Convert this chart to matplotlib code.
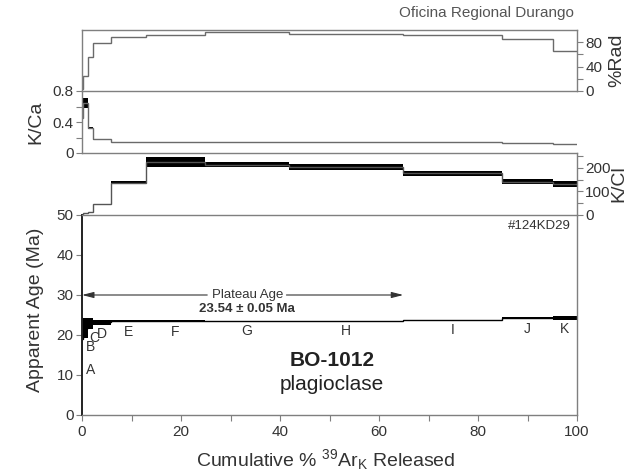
import matplotlib
matplotlib.use("Agg")
import matplotlib.pyplot as plt
import numpy as np

plt.rcParams['font.family'] = ['Liberation Sans', 'DejaVu Sans']
plt.rcParams['mathtext.fontset'] = 'custom'
plt.rcParams['mathtext.rm'] = 'Liberation Sans'
plt.rcParams['mathtext.it'] = 'Liberation Sans:italic'
plt.rcParams['mathtext.bf'] = 'Liberation Sans:bold'

# ---- step-heating data ----
steps = ['A', 'B', 'C', 'D', 'E', 'F', 'G', 'H', 'I', 'J', 'K']
cum_edges = [0, 0.3, 1.3, 2.3, 5.8, 12.9, 24.8, 41.9, 64.9, 84.8, 95.1, 100]
age = [19.1, 21.8, 22.9, 23.2, 23.5, 23.45, 23.52, 23.52, 23.7, 24.2, 24.3]
age_err = [5.4, 2.5, 1.3, 0.6, 0.35, 0.2, 0.1, 0.1, 0.15, 0.3, 0.5]
rad = [3, 24, 55, 78, 88.7, 92, 96, 93, 92, 86, 66]
kca = [0.45, 0.64, 0.32, 0.177, 0.146, 0.145, 0.145, 0.145, 0.145, 0.133, 0.116]
kca_err = [0.11, 0.065, 0.01, 0.004, 0.002, 0.002, 0.002, 0.002, 0.002, 0.002, 0.002]
kcl = [1, 7, 13, 46, 137, 224, 213, 202, 176, 141, 132]
kcl_err = [0.5, 0.5, 0.5, 1, 7.5, 20, 9, 12, 10, 10, 13]

plateau_age = 23.54
plateau_err = 0.05
plateau_range = (0, 64.9)
sample = 'BO-1012'
mineral = 'plagioclase'
lab_id = '#124KD29'
institution = 'Oficina Regional Durango'

edges = np.array(cum_edges)
widths = np.diff(edges)
lefts = edges[:-1]

GRAY = '#7f7f7f'
TXT = '#333333'

fig = plt.figure(figsize=(6.29, 4.74), dpi=100)
FW, FH = 629.0, 474.0
L, R = 82 / FW, 577 / FW


def panel(top_px, bot_px):
    return fig.add_axes([L, 1 - bot_px / FH, R - L, (bot_px - top_px) / FH])


ax_rad = panel(30, 91)
ax_kca = panel(91, 153)
ax_kcl = panel(153, 215)
ax_age = panel(215, 415)

for ax in (ax_rad, ax_kca, ax_kcl, ax_age):
    ax.set_xlim(0, 100)
    ax.set_facecolor('none')
    for s in ax.spines.values():
        s.set_color(GRAY)
        s.set_linewidth(1.0)
    ax.tick_params(which='both', direction='out', length=4, width=0.8,
                   color=GRAY, labelcolor=TXT, labelsize=11, pad=2)
    ax.tick_params(axis='x', which='both', bottom=False, labelbottom=False)


def step_line(ax, vals, color, lw):
    ax.step(edges, np.append(vals, vals[-1]), where='post', color=color, lw=lw,
            solid_joinstyle='miter')


def error_boxes(ax, vals, errs):
    v = np.array(vals)
    e = np.array(errs)
    ax.bar(lefts, 2 * e, width=widths, bottom=v - e, align='edge',
           color='black', linewidth=0)


# %Rad panel
step_line(ax_rad, rad, '#6a6a6a', 1.0)
ax_rad.set_ylim(0, 100)
ax_rad.yaxis.tick_right()
ax_rad.set_yticks([0, 40, 80])
ax_rad.set_yticks([20, 60], minor=True)
ax_rad.spines['bottom'].set_visible(False)

# K/Ca panel
error_boxes(ax_kca, kca, kca_err)
step_line(ax_kca, kca, '#6a6a6a', 1.0)
ax_kca.set_ylim(0, 0.8)
ax_kca.set_yticks([0, 0.4, 0.8])
ax_kca.set_yticklabels(['0', '0.4', '0.8'])
ax_kca.set_yticks([0.2, 0.6], minor=True)
ax_kca.spines['right'].set_visible(False)
ax_kca.spines['bottom'].set_visible(False)

# K/Cl panel
error_boxes(ax_kcl, kcl, kcl_err)
step_line(ax_kcl, kcl, '#555555', 1.0)
ax_kcl.set_ylim(0, 262)
ax_kcl.yaxis.tick_right()
ax_kcl.set_yticks([0, 100, 200])
ax_kcl.set_yticks([50, 150, 250], minor=True)
ax_kcl.spines['left'].set_visible(False)
ax_kcl.spines['bottom'].set_visible(False)

# Age spectrum
error_boxes(ax_age, age, age_err)
step_line(ax_age, age, 'black', 1.0)
ax_age.set_ylim(0, 50)
ax_age.set_yticks(range(0, 51, 10))
ax_age.spines['left'].set_color('#222222')
ax_age.spines['left'].set_linewidth(1.4)
ax_age.tick_params(axis='x', which='both', bottom=True, labelbottom=True, pad=3)
ax_age.set_xticks(range(0, 101, 20))
ax_age.set_xticks(range(10, 100, 20), minor=True)

# step letters beneath each box; narrow steps get left-anchored letters
for i, s in enumerate(steps):
    y = age[i] - age_err[i] - 2.4
    if widths[i] < 2:
        ax_age.text(max(lefts[i] + 0.15, 0.8), y, s, ha='left', va='center',
                    fontsize=10, color=TXT)
    else:
        ax_age.text(lefts[i] + widths[i] / 2, y, s, ha='center', va='center',
                    fontsize=10, color=TXT)

# plateau arrow with a gap for its caption
arrow_y = 30
label_x = 33.4
arrow_kw = dict(arrowstyle='-|>,head_length=0.7,head_width=0.18',
                color=TXT, lw=0.8, shrinkA=0, shrinkB=0)
ax_age.annotate('', xy=(plateau_range[0], arrow_y), xytext=(label_x - 8.1, arrow_y),
                arrowprops=arrow_kw)
ax_age.annotate('', xy=(plateau_range[1], arrow_y), xytext=(label_x + 7.9, arrow_y),
                arrowprops=arrow_kw)
ax_age.text(label_x, arrow_y, 'Plateau Age', ha='center', va='center',
            fontsize=9.5, color=TXT)
ax_age.text(label_x, arrow_y - 3.4, f'{plateau_age:.2f} \u00b1 {plateau_err:.2f} Ma',
            ha='center', va='center', fontsize=9.5, fontweight='bold', color=TXT)

ax_age.text(50.5, 13.75, sample, ha='center', va='center', fontsize=15,
            fontweight='bold', color='#222222')
ax_age.text(50.5, 7.6, mineral, ha='center', va='center', fontsize=15,
            color='#222222')
ax_age.text(98.8, 47.3, lab_id, ha='right', va='center', fontsize=9.5, color=TXT)

# axis titles
fig.text(36 / FW, 1 - 310 / FH, 'Apparent Age (Ma)', rotation=90, ha='center',
         va='center', fontsize=14, color=TXT)
fig.text(36 / FW, 1 - 122 / FH, 'K/Ca', rotation=90, ha='center', va='center',
         fontsize=14, color=TXT)
fig.text(617 / FW, 1 - 60 / FH, '%Rad', rotation=90, ha='center', va='center',
         fontsize=14, color=TXT)
fig.text(619 / FW, 1 - 184 / FH, 'K/Cl', rotation=90, ha='center', va='center',
         fontsize=14, color=TXT)
fig.text(326 / FW, 1 - 460 / FH, r'Cumulative % $^{39}$Ar$_{\mathrm{K}}$ Released',
         ha='center', va='center', fontsize=14, color=TXT)
fig.text(574 / FW, 1 - 13 / FH, institution, ha='right', va='center',
         fontsize=11, color='#555555')

fig.savefig('out.png', dpi=100)
